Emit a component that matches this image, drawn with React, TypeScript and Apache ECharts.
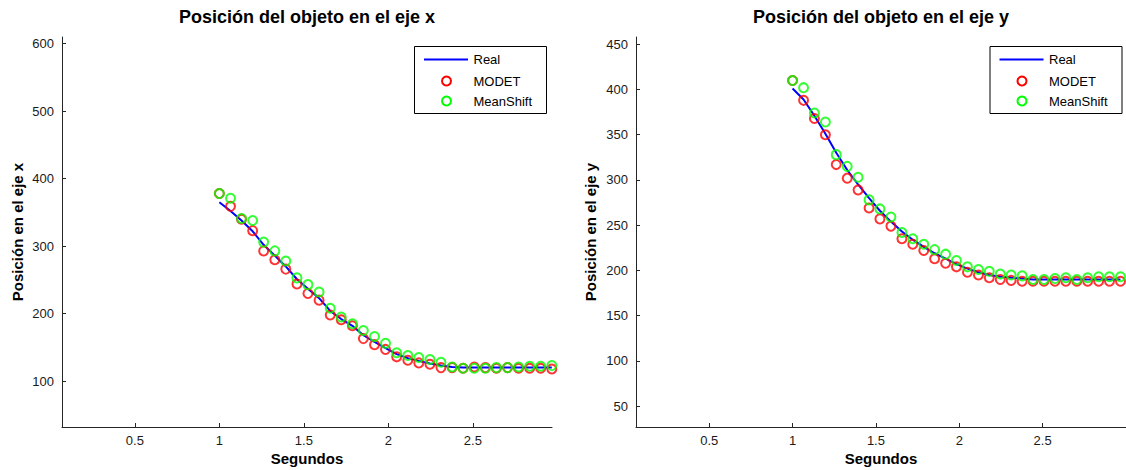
import React, { useEffect, useRef } from "react";
import * as echarts from "echarts";

const time = [1.0, 1.066, 1.131, 1.197, 1.262, 1.328, 1.393, 1.459, 1.524, 1.59, 1.656, 1.721, 1.787, 1.852, 1.918, 1.983, 2.049, 2.115, 2.18, 2.246, 2.311, 2.377, 2.442, 2.508, 2.574, 2.639, 2.705, 2.77, 2.836, 2.901, 2.967];

const xReal = [365, 352, 338, 322, 302, 286, 270, 251, 237, 223, 204, 192, 182, 168, 158, 149, 140, 134, 130, 126, 123, 121, 120, 120, 120, 120, 120, 120, 120, 120, 120];
const xModet = [378, 359, 340, 323, 293, 280, 266, 244, 230, 220, 198, 191, 182, 163, 154, 147, 136, 131, 127, 125, 120, 120, 119, 121, 120, 119, 120, 119, 119, 119, 118];
const xMeanShift = [378, 371, 341, 338, 306, 293, 278, 253, 243, 232, 208, 195, 185, 175, 166, 156, 142, 138, 135, 132, 128, 121, 119, 119, 119, 120, 120, 121, 122, 122, 123];

const yReal = [401, 389, 371, 351, 330, 311, 295, 280, 266, 254, 243, 234, 226, 219, 213, 207, 202, 198, 195, 193, 192, 191, 190, 190, 190, 190, 190, 190, 190, 190, 190];
const yModet = [410, 388, 368, 350, 317, 302, 289, 269, 257, 249, 235, 229, 222, 213, 208, 204, 198, 195, 192, 190, 189, 188, 188, 188, 188, 188, 188, 188, 188, 188, 188];
const yMeanShift = [410, 402, 374, 364, 328, 315, 303, 278, 268, 259, 242, 235, 229, 223, 218, 211, 204, 201, 199, 196, 195, 194, 190, 190, 191, 192, 190, 192, 193, 193, 193];

const xTicks = [0.5, 1, 1.5, 2, 2.5];
const leftYTicks = [100, 200, 300, 400, 500, 600];
const rightYTicks = [50, 100, 150, 200, 250, 300, 350, 400, 450];

const titles = ["Posición del objeto en el eje x", "Posición del objeto en el eje y"];
const yNames = ["Posición en el eje x", "Posición en el eje y"];
const xName = "Segundos";
const legendNames = ["Real", "MODET", "MeanShift"];

const FONT = "'Liberation Sans', Arial, Helvetica, sans-serif";
const AX = "#262626";

function pair(a: number[], b: number[]) {
  return a.map((v, i) => [v, b[i]]);
}

function xAxisCfg(gridIndex: number, min: number, max: number) {
  return {
    type: "value",
    gridIndex,
    min,
    max,
    axisLine: { show: true, onZero: false, lineStyle: { color: AX, width: 1 } },
    axisTick: { show: true, inside: true, length: 4, customValues: xTicks, lineStyle: { color: AX } },
    axisLabel: { customValues: xTicks, color: "#1a1a1a", fontSize: 13, fontFamily: FONT, margin: 7, formatter: (v: number) => String(v) },
    splitLine: { show: false },
  };
}

function yAxisCfg(gridIndex: number, min: number, max: number, ticks: number[]) {
  return {
    type: "value",
    gridIndex,
    min,
    max,
    axisLine: { show: true, onZero: false, lineStyle: { color: AX, width: 1 } },
    axisTick: { show: true, inside: true, length: 4, customValues: ticks, lineStyle: { color: AX } },
    axisLabel: { customValues: ticks, color: "#1a1a1a", fontSize: 13, fontFamily: FONT, margin: 8, formatter: (v: number) => String(v) },
    splitLine: { show: false },
  };
}

function seriesFor(idx: number, real: number[], modet: number[], ms: number[]) {
  return [
    {
      type: "line",
      name: legendNames[0],
      xAxisIndex: idx,
      yAxisIndex: idx,
      data: pair(time, real),
      showSymbol: false,
      lineStyle: { color: "#0000ff", width: 2 },
      z: 2,
    },
    {
      type: "scatter",
      name: legendNames[1],
      xAxisIndex: idx,
      yAxisIndex: idx,
      data: pair(time, modet),
      symbol: "circle",
      symbolSize: 9,
      itemStyle: { color: "rgba(0,0,0,0)", borderColor: "#ff0000", borderWidth: 2 },
      z: 3,
    },
    {
      type: "scatter",
      name: legendNames[2],
      xAxisIndex: idx,
      yAxisIndex: idx,
      data: pair(time, ms),
      symbol: "circle",
      symbolSize: 9,
      itemStyle: { color: "rgba(0,0,0,0)", borderColor: "#00ff00", borderWidth: 2 },
      z: 4,
    },
  ];
}

function legendGraphic(bx: number) {
  const tx = bx + 59.5;
  const cx = bx + 32.5;
  const textStyle = { fontSize: 13, fontFamily: FONT, fill: "#000", textVerticalAlign: "middle" };
  return [
    { type: "rect", shape: { x: bx + 0.5, y: 46.5, width: 132, height: 67 }, style: { fill: "#fff", stroke: "#000", lineWidth: 1 }, z: 100 },
    { type: "line", shape: { x1: bx + 10, y1: 59.5, x2: bx + 54, y2: 59.5 }, style: { stroke: "#0000ff", lineWidth: 2 }, z: 101 },
    { type: "circle", shape: { cx, cy: 81, r: 4.5 }, style: { fill: "none", stroke: "#ff0000", lineWidth: 2 }, z: 101 },
    { type: "circle", shape: { cx, cy: 101, r: 4.5 }, style: { fill: "none", stroke: "#00ff00", lineWidth: 2 }, z: 101 },
    { type: "text", x: tx, y: 59.5, style: { ...textStyle, text: legendNames[0] }, z: 101 },
    { type: "text", x: tx, y: 81, style: { ...textStyle, text: legendNames[1] }, z: 101 },
    { type: "text", x: tx, y: 101, style: { ...textStyle, text: legendNames[2] }, z: 101 },
  ];
}

export default function App() {
  const ref = useRef<HTMLDivElement>(null);
  useEffect(() => {
    if (!ref.current) return;
    const chart = echarts.init(ref.current, undefined, { renderer: "svg" });
    const boldText = { fontSize: 14, fontWeight: "bold", fontFamily: FONT, fill: "#000", textAlign: "center", textVerticalAlign: "middle" };
    chart.setOption({
      animation: false,
      backgroundColor: "#fff",
      grid: [
        { left: 62, top: 37, width: 490, height: 390, containLabel: false },
        { left: 636, top: 37, width: 492, height: 390, containLabel: false },
      ],
      xAxis: [xAxisCfg(0, 0.069, 2.968), xAxisCfg(1, 0.061, 3.0)],
      yAxis: [yAxisCfg(0, 32, 610, leftYTicks), yAxisCfg(1, 27, 458, rightYTicks)],
      series: [...seriesFor(0, xReal, xModet, xMeanShift), ...seriesFor(1, yReal, yModet, yMeanShift)],
      graphic: [
        { type: "text", x: 307, y: 17, style: { ...boldText, fontSize: 18, text: titles[0] } },
        { type: "text", x: 881, y: 17, style: { ...boldText, fontSize: 18, text: titles[1] } },
        { type: "text", x: 307, y: 458, style: { ...boldText, fontSize: 15, text: xName } },
        { type: "text", x: 881, y: 458, style: { ...boldText, fontSize: 15, text: xName } },
        { type: "text", x: 17, y: 232, rotation: Math.PI / 2, style: { ...boldText, fontSize: 15, text: yNames[0] } },
        { type: "text", x: 590, y: 232, rotation: Math.PI / 2, style: { ...boldText, fontSize: 15, text: yNames[1] } },
        ...legendGraphic(414),
        ...legendGraphic(989.5),
      ],
    });
    return () => chart.dispose();
  }, []);
  return <div ref={ref} style={{ position: "absolute", left: 0, top: 0, width: 1126, height: 470 }} />;
}
